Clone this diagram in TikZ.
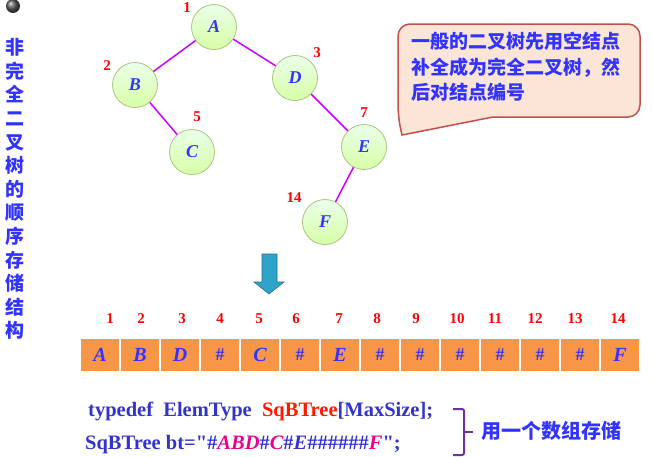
\documentclass[tikz,border=0pt]{standalone}
\usepackage{fontspec}
\setmainfont{Liberation Serif}
\newfontfamily\cjk{Noto Sans CJK SC}
\newfontfamily\codefont{Liberation Serif}[Ligatures=TeXOff]
\usepackage{tikz, xcolor}
\usetikzlibrary{shapes,arrows}

\definecolor{txtblue}{HTML}{3333FF}
\definecolor{codeblue}{HTML}{3333CC}
\definecolor{edgeviolet}{HTML}{CC00FF}
\definecolor{cellorange}{HTML}{F79646}
\definecolor{ringgreen}{HTML}{A9C47F}
\definecolor{balloonfill}{HTML}{FBE5D6}
\definecolor{balloonline}{HTML}{C0504D}
\definecolor{bracepurple}{HTML}{7030A0}
\definecolor{arrowteal}{HTML}{2FA3C9}

\begin{document}
\begin{tikzpicture}[x=1pt, y=-1pt]
\tikzstyle{vertexc}=[circle, draw=ringgreen, thick, minimum size=45pt, inner sep=0pt, top color=green!8!white, bottom color=green!45!yellow!35!white, font=\fontsize{18}{18}\selectfont\bfseries\itshape, text=txtblue]
\tikzstyle{numstyle}=[text=red, font=\fontsize{15}{15}\selectfont\bfseries]
\tikzstyle{drawstyle}=[edgeviolet, line width=1.5pt]
\tikzstyle{cellr}=[rectangle, draw=white, line width=1.2pt, fill=cellorange, minimum width=40pt, minimum height=34pt, inner sep=0pt, text=txtblue, font=\fontsize{20}{20}\selectfont\bfseries\itshape]
\tikzstyle{cellh}=[cellr, font=\fontsize{18}{18}\selectfont\bfseries]
\tikzstyle{cjkstyle}=[text=txtblue, font=\cjk\bfseries]
\tikzstyle{codestyle}=[anchor=west, inner sep=0pt, text=codeblue, font=\codefont\fontsize{20.5}{20.5}\selectfont\bfseries]
\useasboundingbox (0,0) rectangle (652,456);

% title down the left side
\shade[ball color=gray!70!black] (13,6) circle (7);
\node[cjkstyle, align=center, font=\cjk\bfseries\fontsize{19}{23.6}\selectfont, anchor=north] (title) at (15,35) {非\\完\\全\\二\\叉\\树\\的\\顺\\序\\存\\储\\结\\构};

% the tree
\node[vertexc] (TA) at (214,27) {A};
\node[vertexc] (TB) at (135,85) {B};
\node[vertexc] (TC) at (192,152) {C};
\node[vertexc] (TD) at (295,78) {D};
\node[vertexc] (TE) at (364,147) {E};
\node[vertexc] (TF) at (325,222) {F};
\draw[drawstyle] (TA) -- (TB);
\draw[drawstyle] (TB) -- (TC);
\draw[drawstyle] (TA) -- (TD);
\draw[drawstyle] (TD) -- (TE);
\draw[drawstyle] (TE) -- (TF);
\node[numstyle] (TA1) at (187,8) {1};
\node[numstyle] (TB2) at (107,66) {2};
\node[numstyle] (TC5) at (197,117) {5};
\node[numstyle] (TD3) at (317,53) {3};
\node[numstyle] (TE7) at (364,113) {7};
\node[numstyle] (TF14) at (294,198) {14};

% balloon
\draw[fill=balloonfill, draw=balloonline, line width=1.5pt] (402,135) -- (493,117) [rounded corners=12] -- (640,117) -- (640,24) -- (398,24) -- (398,117) [sharp corners] -- cycle;
\node[cjkstyle, anchor=north west, align=left, inner sep=0pt, font=\cjk\bfseries\fontsize{19}{25.5}\selectfont] (note) at (411,32) {一般的二叉树先用空结点\\补全成为完全二叉树，然\\后对结点编号};

% arrow down
\filldraw[fill=arrowteal, draw=arrowteal!70!black, line width=0.6pt] (262,254) -- (277,254) -- (277,282) -- (284,282) -- (269,294) -- (254,282) -- (262,282) -- cycle;

% index numbers
\node[numstyle] (I1) at (110,319) {1};
\node[numstyle] (I2) at (141,319) {2};
\node[numstyle] (I3) at (182,319) {3};
\node[numstyle] (I4) at (220,319) {4};
\node[numstyle] (I5) at (259,319) {5};
\node[numstyle] (I6) at (296,319) {6};
\node[numstyle] (I7) at (339,319) {7};
\node[numstyle] (I8) at (377,319) {8};
\node[numstyle] (I9) at (416,319) {9};
\node[numstyle] (I10) at (457,319) {10};
\node[numstyle] (I11) at (495,319) {11};
\node[numstyle] (I12) at (535,319) {12};
\node[numstyle] (I13) at (575,319) {13};
\node[numstyle] (I14) at (618,319) {14};

% the array
\node[cellr] (S1) at (100,355) {A};
\node[cellr] (S2) at (140,355) {B};
\node[cellr] (S3) at (180,355) {D};
\node[cellh] (S4) at (220,355) {\#};
\node[cellr] (S5) at (260,355) {C};
\node[cellh] (S6) at (300,355) {\#};
\node[cellr] (S7) at (340,355) {E};
\node[cellh] (S8) at (380,355) {\#};
\node[cellh] (S9) at (420,355) {\#};
\node[cellh] (S10) at (460,355) {\#};
\node[cellh] (S11) at (500,355) {\#};
\node[cellh] (S12) at (540,355) {\#};
\node[cellh] (S13) at (580,355) {\#};
\node[cellr] (S14) at (620,355) {F};

% code lines
\node[codestyle] (code1) at (88,411) {typedef\ \ ElemType\ \ \textcolor{red!80!orange}{SqBTree}[MaxSize];};
\node[codestyle] (code2) at (85,445) {SqBTree bt="\#\textcolor{magenta}{\itshape ABD}\#\textcolor{magenta}{\itshape C}\#{\itshape E}\#\#\#\#\#\#\textcolor{magenta}{\itshape F}";};

% brace
\draw[bracepurple, line width=2pt, rounded corners=2] (453,409) -- (464,409) -- (464,455) -- (453,455);
\draw[bracepurple, line width=2pt] (464,432) -- (473,432);
\node[cjkstyle, anchor=west, inner sep=0pt, font=\cjk\bfseries\fontsize{20}{20}\selectfont] (store) at (481,431) {用一个数组存储};
\end{tikzpicture}
\end{document}
